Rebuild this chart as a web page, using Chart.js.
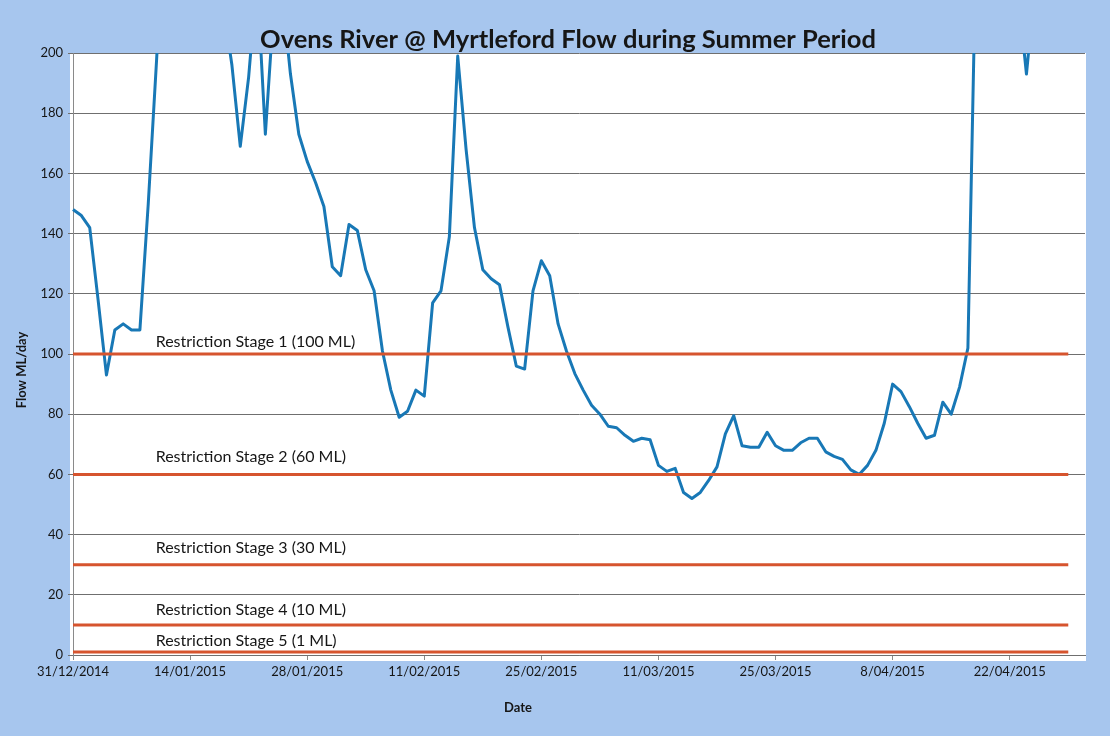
<!DOCTYPE html>
<html>
<head>
<meta charset="utf-8">
<title>Ovens River @ Myrtleford Flow during Summer Period</title>
<script src="https://cdn.jsdelivr.net/npm/chart.js@4.4.1/dist/chart.umd.min.js"></script>
<style>
  html, body { margin: 0; padding: 0; background: #a7c6ee; }
  #wrap { width: 1110px; height: 736px; }
</style>
</head>
<body>
<div id="wrap"><canvas id="flow" width="1110" height="736"></canvas></div>
<script>
/* ---------- data ---------- */

var TITLE = 'Ovens River @ Myrtleford Flow during Summer Period';
var X_TITLE = 'Date';
var Y_TITLE = 'Flow ML/day';

var TICK_LABELS = ['31/12/2014', '14/01/2015', '28/01/2015', '11/02/2015', '25/02/2015',
                   '11/03/2015', '25/03/2015', '8/04/2015', '22/04/2015'];

// daily flow from 31/12/2014; values above 200 run off the top of the axis
var FLOW = [
  148, 146, 142, 118,  93, 108, 110, 108, 108, 150,   // 31/12 - 9/01
  198, 250, 290, 330, 310, 285, 300, 265, 215, 196,   // 10/01 - 19/01
  169, 192, 225, 173, 215, 220, 193, 173, 164, 157,   // 20/01 - 29/01
  149, 129, 126, 143, 141, 128, 121, 101,  88,  79,   // 30/01 - 8/02
   81,  88,  86, 117, 121, 139, 199, 168, 142, 128,   // 9/02 - 18/02
  125, 123, 109,  96,  95, 121, 131, 126, 110, 101,   // 19/02 - 28/02
   93.5, 88,  83,  80,  76, 75.5, 73,  71,  72, 71.5, // 1/03 - 10/03
   63,  61,  62,  54,  52,  54,  58, 62.5, 73.5, 79.5,// 11/03 - 20/03
   69.5, 69,  69,  74, 69.5, 68,  68, 70.5, 72,  72,  // 21/03 - 30/03
   67.5, 66,  65, 61.5, 60,  63,  68,  77,  90, 87.5, // 31/03 - 9/04
   82.5, 77,  72,  73,  84,  80,  89, 102, 240, 280,  // 10/04 - 19/04
  300, 270, 250, 220, 193, 222, 250, 270, 260, 240    // 20/04 - 29/04
];

var STAGE_NAMES  = ['Restriction Stage 1 (100 ML)', 'Restriction Stage 2 (60 ML)',
                    'Restriction Stage 3 (30 ML)', 'Restriction Stage 4 (10 ML)',
                    'Restriction Stage 5 (1 ML)'];
var STAGE_LEVELS = [100, 60, 30, 10, 1];

var Y_MIN = 0, Y_MAX = 200, Y_STEP = 20;

/* ---------- day categories: 31/12/2014 .. 1/05/2015 ---------- */
var DAYS = [];
(function () {
  for (var i = 0; i < 122; i++) {
    var d = new Date(2014, 11, 31 + i);
    DAYS.push(d.getDate() + '/' + ('0' + (d.getMonth() + 1)).slice(-2) + '/' + d.getFullYear());
  }
})();

/* ---------- look ---------- */
var FONT = 'Lato, "Open Sans", "DejaVu Sans", sans-serif';
var BLUE = '#1878b6';
var RED  = '#d6542e';
var GRID = '#6f6f6f';
var INK  = '#161616';

/* ---------- plugin: scanned page, white plot area, titles, stage labels ---------- */
var pagePlugin = {
  id: 'page',
  beforeDraw: function (chart) {
    var c = chart.ctx, a = chart.chartArea;
    c.save();
    c.fillStyle = '#a7c6ee';
    c.fillRect(0, 0, chart.width, chart.height);
    c.fillStyle = '#ffffff';
    c.fillRect(a.left - 3, a.top, a.right - a.left + 4, a.bottom - a.top + 6);
    c.restore();
  },
  afterDatasetsDraw: function (chart) {
    var c = chart.ctx, x = chart.scales.x, y = chart.scales.y;
    var lift = [12, 18, 17, 15, 11];          // text sits just above its line
    c.save();
    c.fillStyle = INK;
    c.font = '16px ' + FONT;
    c.textAlign = 'left';
    c.textBaseline = 'middle';
    for (var i = 0; i < STAGE_NAMES.length; i++) {
      c.fillText(STAGE_NAMES[i], x.getPixelForValue(10) - 1, y.getPixelForValue(STAGE_LEVELS[i]) - lift[i]);
    }
    c.restore();
  },
  afterDraw: function (chart) {
    var c = chart.ctx;
    c.save();
    c.fillStyle = INK;
    c.textAlign = 'center';
    c.textBaseline = 'middle';
    c.font = 'bold 25.5px ' + FONT;
    c.fillText(TITLE, 568, 40);
    c.font = 'bold 13px ' + FONT;
    c.fillText(X_TITLE, 518, 708);
    c.translate(22, 370);
    c.rotate(-Math.PI / 2);
    c.fillText(Y_TITLE, 0, 0);
    c.restore();
  }
};

/* ---------- datasets ---------- */
var datasets = STAGE_NAMES.map(function (name, i) {
  return {
    label: name,
    data: [{ x: DAYS[0], y: STAGE_LEVELS[i] }, { x: DAYS[FLOW.length - 1], y: STAGE_LEVELS[i] }],
    borderColor: RED,
    borderWidth: 3,
    pointRadius: 0,
    order: 0
  };
});
datasets.push({
  label: 'Flow',
  data: FLOW,
  borderColor: BLUE,
  borderWidth: 3,
  borderJoinStyle: 'round',
  pointRadius: 0,
  tension: 0,
  order: 1
});

new Chart(document.getElementById('flow').getContext('2d'), {
  type: 'line',
  data: { labels: DAYS, datasets: datasets },
  plugins: [pagePlugin],
  options: {
    responsive: false,
    devicePixelRatio: 1,
    animation: false,
    layout: { padding: { top: 53, right: 25, bottom: 0, left: 0 } },
    plugins: {
      legend: { display: false },
      title: { display: false },
      tooltip: { enabled: false }
    },
    scales: {
      x: {
        type: 'category',
        offset: false,
        afterFit: function (s) { s.height = 81; },
        afterBuildTicks: function (s) {
          s.ticks = s.ticks.filter(function (t) { return TICK_LABELS.indexOf(DAYS[t.value]) !== -1; });
        },
        grid: { drawOnChartArea: false, color: '#8a8a8a', tickLength: 5 },
        border: { color: GRID },
        ticks: {
          autoSkip: false, maxRotation: 0, padding: 4,
          color: INK, font: { family: FONT, size: 13 }
        }
      },
      y: {
        min: Y_MIN, max: Y_MAX,
        afterFit: function (s) { s.width = 73; },
        grid: { color: GRID, lineWidth: 1, tickLength: 5 },
        border: { color: '#8a8a8a' },
        ticks: {
          stepSize: Y_STEP, padding: 5,
          color: INK, font: { family: FONT, size: 13 }
        }
      }
    }
  }
});
</script>
</body>
</html>
